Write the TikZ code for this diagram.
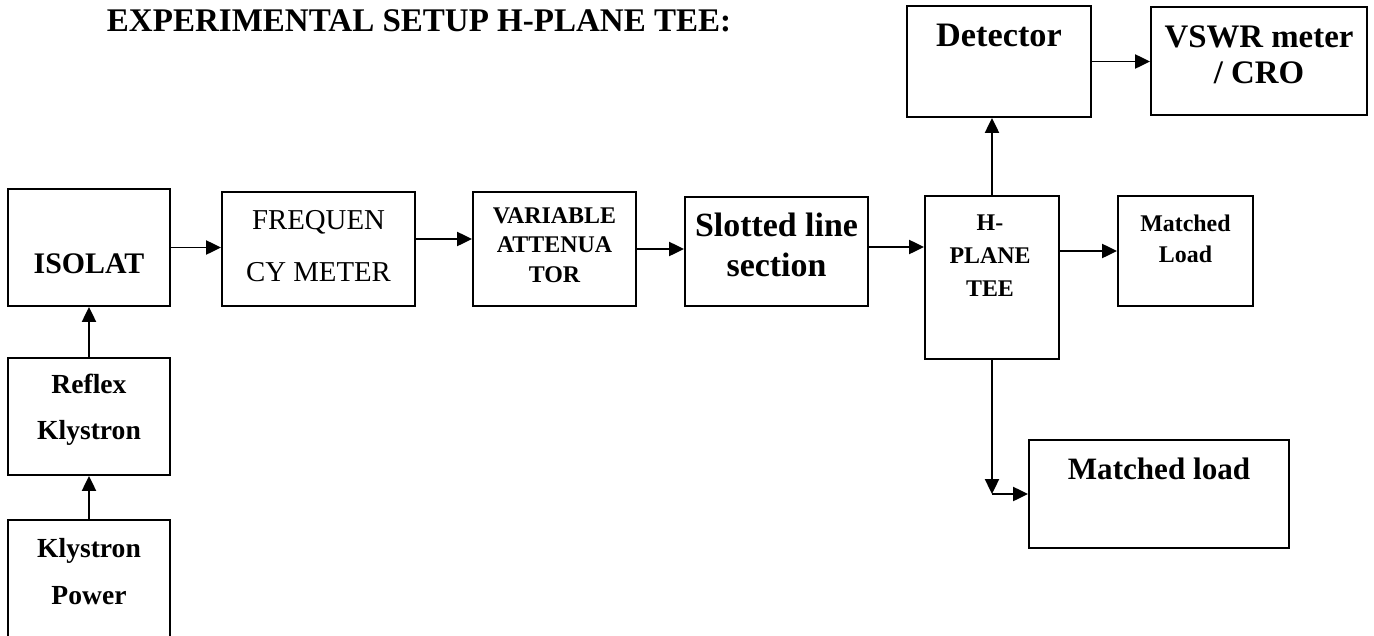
\documentclass[tikz,border=0pt]{standalone}
\usepackage{fontspec}
\setmainfont{Liberation Serif}
\usetikzlibrary{positioning,arrows.meta,calc}

\tikzset{
  blk/.style 2 args={draw,line width=1.1pt,inner sep=0pt,
    minimum width=#1*0.02cm,minimum height=#2*0.02cm},
  lbl/.style={align=center,inner sep=0pt,font=\bfseries},
}
\newcommand{\fs}[2]{\fontsize{#1}{#2}\selectfont}

\begin{document}
\begin{tikzpicture}[x=0.02cm,y=-0.02cm,>={Triangle[length=8.5pt,width=8pt]},line width=1.1pt]
  \useasboundingbox (0,0) rectangle (1374,636);
  % title
  \node[lbl,anchor=west,font=\bfseries\fs{18.8}{22}] (title) at (106,21) {EXPERIMENTAL SETUP H-PLANE TEE:};
  % boxes
  \node[blk={162}{117}] (iso) at (89,247.5) {};
  \node[blk={193}{114}] (freq) at (318.5,249) {};
  \node[blk={163}{114}] (var) at (554.5,249) {};
  \node[blk={183}{109}] (slot) at (776.5,251.5) {};
  \node[blk={134}{163}] (tee) at (992,277.5) {};
  \node[blk={135}{110}] (ml) at (1185.5,251) {};
  \node[blk={184}{111}] (det) at (999,61.5) {};
  \node[blk={216}{108}] (vswr) at (1259,61) {};
  \node[blk={260}{108}] (mlb) at (1159,494) {};
  \node[blk={162}{117}] (refl) at (89,416.5) {};
  \node[blk={162}{122}] (kp) at (89,581) {};
  % texts
  \node[lbl,font=\bfseries\fs{17}{20}] (iso-t) at (89,264) {ISOLAT};
  \node[lbl,font=\mdseries\fs{16.4}{29.5}] (freq-t) at (318.5,246) {FREQUEN\\CY METER};
  \node[lbl,font=\bfseries\fs{13.6}{16.7}] (var-t) at (554.5,245) {VARIABLE\\ATTENUA\\TOR};
  \node[lbl,font=\bfseries\fs{19.3}{22.7}] (slot-t) at (776.5,245) {Slotted line\\section};
  \node[lbl,font=\bfseries\fs{13.6}{18.7}] (tee-t) at (990,256) {H-\\PLANE\\TEE};
  \node[lbl,font=\bfseries\fs{13.6}{17.6}] (ml-t) at (1185.5,238.5) {Matched\\Load};
  \node[lbl,font=\bfseries\fs{19.5}{22}] (det-t) at (999,35) {Detector};
  \node[lbl,font=\bfseries\fs{18.7}{20.5}] (vswr-t) at (1259,55) {VSWR meter\\/ CRO};
  \node[lbl,font=\bfseries\fs{17.7}{20}] (mlb-t) at (1159,469) {Matched load};
  \node[lbl,font=\bfseries\fs{15.7}{26}] (refl-t) at (89,410) {Reflex\\Klystron};
  \node[lbl,font=\bfseries\fs{15.7}{26.6}] (kp-t) at (89,571.5) {Klystron\\Power};
  % connectors
  \coordinate (bend) at (tee.south |- mlb.west);
  \draw[->] (iso.east) -- (iso.east -| freq.west);
  \draw[->] ($(freq.east)+(0,-10)$) -- ($(freq.east -| var.west)+(0,-10)$);
  \draw[->] (var.east) -- (var.east -| slot.west);
  \draw[->] ($(slot.east)+(0,-4.5)$) -- ($(slot.east -| tee.west)+(0,-4.5)$);
  \draw[->] (tee.east |- ml.west) -- (ml.west);
  \draw[->] (tee.north) -- (tee.north |- det.south);
  \draw[->] (det.east) -- (det.east -| vswr.west);
  \draw[->] (tee.south) -- (bend);
  \draw[->] (bend) -- (mlb.west);
  \draw[->] (refl.north) -- (iso.south);
  \draw[->] (kp.north) -- (refl.south);
\end{tikzpicture}
\end{document}
